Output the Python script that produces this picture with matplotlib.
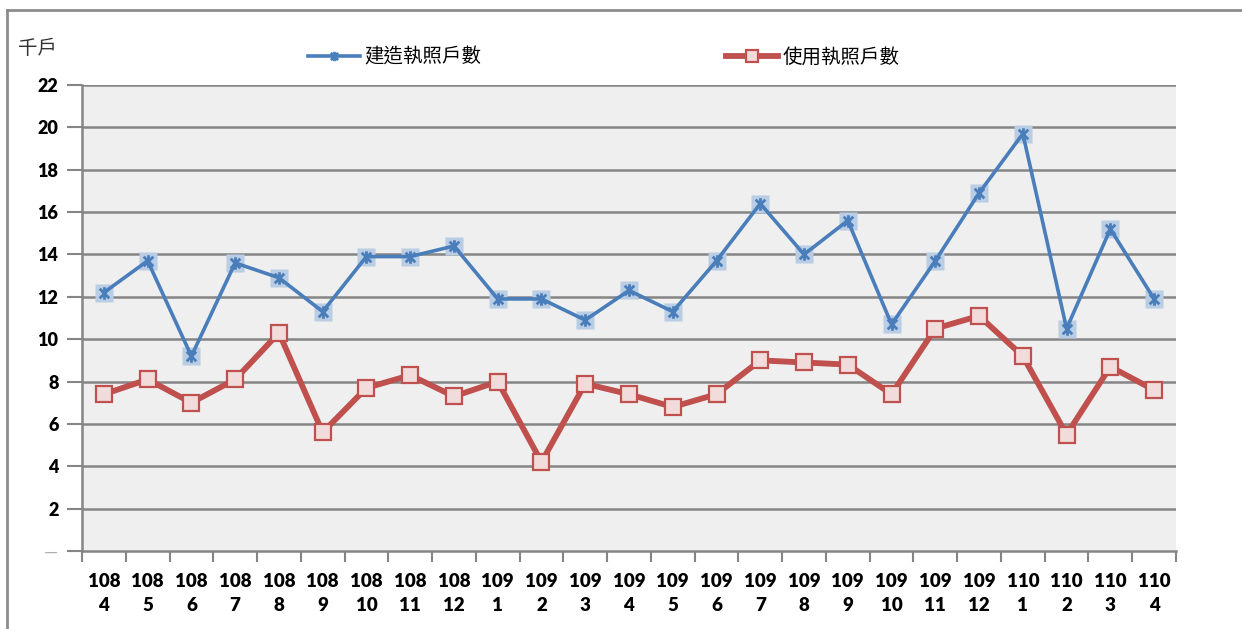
import matplotlib.pyplot as plt
from matplotlib.path import Path
from matplotlib.lines import Line2D

# 月份 (民國年 / 月)
years = ["108"] * 9 + ["109"] * 12 + ["110"] * 4
months = [4, 5, 6, 7, 8, 9, 10, 11, 12,
          1, 2, 3, 4, 5, 6, 7, 8, 9, 10, 11, 12,
          1, 2, 3, 4]
# 千戶
build_permits = [12.2, 13.7, 9.2, 13.6, 12.9, 11.3, 13.9, 13.9, 14.4,
                 11.9, 11.9, 10.9, 12.3, 11.3, 13.7, 16.4, 14.0, 15.6, 10.7, 13.7, 16.9,
                 19.7, 10.5, 15.2, 11.9]
use_permits = [7.4, 8.1, 7.0, 8.1, 10.3, 5.6, 7.7, 8.3, 7.3,
               8.0, 4.2, 7.9, 7.4, 6.8, 7.4, 9.0, 8.9, 8.8, 7.4, 10.5, 11.1,
               9.2, 5.5, 8.7, 7.6]
y_ticks = list(range(0, 23, 2))

num_font = ['Lato', 'Noto Sans CJK TC', 'DejaVu Sans']
cjk_font = ['Noto Sans CJK TC', 'DejaVu Sans']
plt.rcParams['font.family'] = num_font

blue, blue_light = '#4a7ebb', '#b9cde5'
red, red_light = '#c0504d', '#f2dcdb'
grid_grey = '#858585'

# excel style star marker: X plus vertical bar
star = Path([(-1, -1), (1, 1), (-1, 1), (1, -1), (0, -1.3), (0, 1.3)],
            [Path.MOVETO, Path.LINETO, Path.MOVETO, Path.LINETO, Path.MOVETO, Path.LINETO])

labels = [f"{y}\n{m}" for y, m in zip(years, months)]
x = list(range(len(labels)))

fig = plt.figure(figsize=(12.42, 6.29), dpi=100)
ax = fig.add_axes([82 / 1242, 78 / 629, 1094 / 1242, 466 / 629])
ax.set_facecolor('#efefef')

for yv in y_ticks[1:]:
    ax.axhline(yv, color=grid_grey, lw=1.8, zorder=1)

ax.plot(x, build_permits, ls='none', marker='s', ms=13, mfc=blue_light, mec='none', zorder=3)
ax.plot(x, build_permits, color=blue, lw=2.6, marker=star, ms=9, mec=blue, mew=2,
        label='建造執照戶數', zorder=4)
ax.plot(x, use_permits, color=red, lw=4.2, marker='s', ms=11.5, mfc=red_light, mec=red, mew=1.6,
        label='使用執照戶數', zorder=4)

ax.set_xlim(-0.5, len(labels) - 0.5)
ax.set_ylim(0, 22)

ax.set_yticks(y_ticks)
ax.set_yticklabels(['—'] + [str(v) for v in y_ticks[1:]], fontsize=13, fontweight='heavy')
ax.get_yticklabels()[0].set_color('#b0b0b0')
ax.get_yticklabels()[0].set_fontweight('normal')
ax.tick_params(axis='y', length=11, width=1.5, color=grid_grey, pad=6)

ax.set_xticks([i - 0.5 for i in range(len(labels) + 1)])
ax.set_xticklabels([])
ax.set_xticks(x, minor=True)
ax.set_xticklabels(labels, minor=True, fontsize=13.5, fontweight='heavy', linespacing=1.45)
ax.tick_params(axis='x', which='major', length=8, width=1.5, color=grid_grey, direction='out')
ax.tick_params(axis='x', which='minor', length=0, pad=16)

for side in ['top', 'right']:
    ax.spines[side].set_visible(False)
for side in ['left', 'bottom']:
    ax.spines[side].set_color(grid_grey)
    ax.spines[side].set_linewidth(1.8)

fig.text(18 / 1242, 1 - 48 / 629, '千戶', fontsize=14, family=cjk_font, va='center', color='#333333')

h, l = ax.get_legend_handles_labels()
fig.legend(h, l, loc='center left', bbox_to_anchor=(290 / 1242, 1 - 57 / 629), ncol=2, frameon=False,
           handlelength=2.7, handletextpad=0.2, columnspacing=12.6, numpoints=1, markerscale=0.75,
           prop={'family': cjk_font, 'size': 14})

# outer frame (cropped screenshot)
fig.add_artist(Line2D([7 / 1242, 1], [1 - 10 / 629, 1 - 10 / 629], color='#8c8c8c', lw=2))
fig.add_artist(Line2D([7 / 1242, 7 / 1242], [0, 1 - 10 / 629], color='#8c8c8c', lw=2))

fig.savefig('out.png', dpi=100)
